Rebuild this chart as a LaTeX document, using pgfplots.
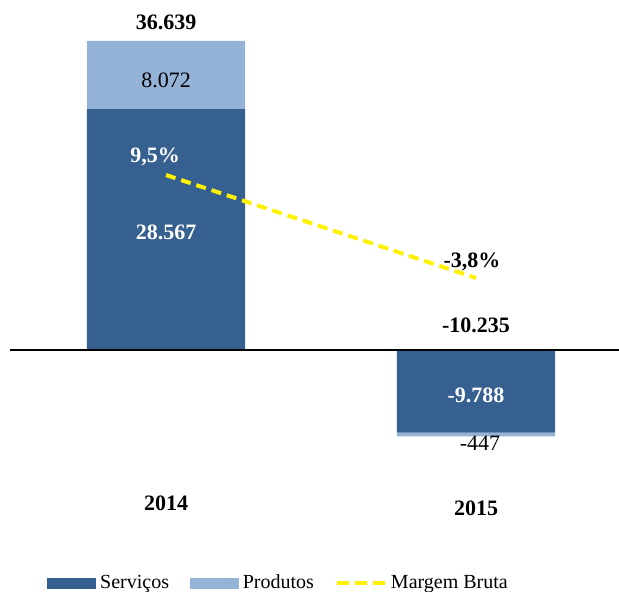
\documentclass[border=0pt]{standalone}
\usepackage{pgfplots}
\pgfplotsset{compat=1.18}
\usepackage{fontspec}
\setmainfont{Liberation Serif}
\definecolor{serv}{RGB}{54,96,143}
\definecolor{prod}{RGB}{149,179,215}
\begin{document}
\begin{tikzpicture}
\pgfplotsset{base/.style={scale only axis,width=309.5pt,height=296pt,hide axis,clip=false,
  at={(0,0)},anchor=south west,xmin=-0.5355,xmax=1.4613}}
\tikzset{lab/.style={font=\fontsize{11}{13}\selectfont,inner sep=0pt},
  blab/.style={font=\fontsize{11}{13}\selectfont\bfseries,inner sep=0pt}}
\begin{axis}[base,ybar stacked,bar width=0.51,ymin=-28693,ymax=41499]
\addplot[fill=serv,draw=none] coordinates {(0,28567) (1,-9788)};
\addplot[fill=prod,draw=none] coordinates {(0,8072) (1,-447)};
\coordinate (z0) at (axis cs:-0.503,0);
\coordinate (z1) at (axis cs:1.4613,0);
\coordinate (t0) at (axis cs:0,38890);
\coordinate (p0) at (axis cs:0,32013);
\coordinate (s0) at (axis cs:0,13991);
\coordinate (m0) at (axis cs:-0.0355,22884);
\coordinate (m1) at (axis cs:0.987,10434);
\coordinate (t1) at (axis cs:1,2964);
\coordinate (s1) at (axis cs:1,-5336);
\coordinate (p1) at (axis cs:1.013,-11027);
\coordinate (y0) at (axis cs:0,-18141);
\coordinate (y1) at (axis cs:1,-18734);
\end{axis}
\draw[line width=0.8pt] (z0) -- (z1);
\node[blab] at (t0) {36.639};
\node[lab] at (p0) {8.072};
\node[blab,white] at (s0) {28.567};
\node[blab] at (t1) {-10.235};
\node[blab,white] at (s1) {-9.788};
\node[lab] at (p1) {-447};
\node[blab] at (y0) {2014};
\node[blab] at (y1) {2015};
\begin{axis}[base,ymin=-44.35,ymax=32.10,
  legend columns=3,
  legend style={draw=none,fill=none,inner sep=0pt,at={(0.0759,0.0152)},anchor=west,
    font=\fontsize{10}{12}\selectfont,
    /tikz/every even column/.append style={column sep=8.5pt}},
  legend cell align=left]
\addlegendimage{legend image code/.code={\fill[serv] (0pt,-2.5pt) rectangle (24pt,2.5pt);}}
\addlegendentry{Serviços}
\addlegendimage{legend image code/.code={\fill[prod] (0pt,-2.5pt) rectangle (24pt,2.5pt);}}
\addlegendentry{Produtos}
\addplot[yellow,line width=2pt,dash pattern=on 5pt off 3pt,
  legend image code/.code={\draw[yellow,line width=2pt,dash pattern=on 6pt off 3pt] (0pt,0pt) -- (24pt,0pt);}]
  coordinates {(0,9.5) (1,-3.8)};
\addlegendentry{Margem Bruta}
\end{axis}
\node[blab,white] at (m0) {9,5\%};
\node[blab] at (m1) {-3,8\%};
\pgfresetboundingbox
\path (0,0) rectangle (309.5pt,296pt);
\end{tikzpicture}
\end{document}
